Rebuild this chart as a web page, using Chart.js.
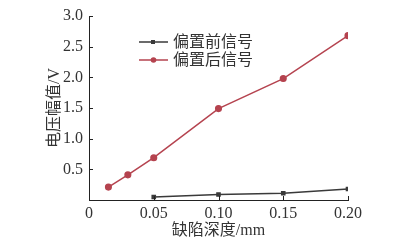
<!DOCTYPE html>
<html>
<head>
<meta charset="utf-8">
<script src="https://cdn.jsdelivr.net/npm/chart.js@4"></script>
<style>
  html, body { margin: 0; padding: 0; background: #fff; }
  #wrap { width: 400px; height: 243px; }
</style>
</head>
<body>
<div id="wrap"><canvas id="chart" width="400" height="243"></canvas></div>
<script>
// 数据
const seriesNames = ['偏置前信号', '偏置后信号'];
const beforeDepth = [0.05, 0.10, 0.15, 0.20];
const beforeAmp = [0.05, 0.09, 0.11, 0.18];
const afterDepth = [0.015, 0.03, 0.05, 0.10, 0.15, 0.20];
const afterAmp = [0.21, 0.41, 0.69, 1.49, 1.98, 2.68];
const xTickLabels = ['0', '0.05', '0.10', '0.15', '0.20'];
const yTickLabels = ['', '0.5', '1.0', '1.5', '2.0', '2.5', '3.0'];

const colors = ['#3a3a3a', '#b5434f'];
const markers = ['rect', 'circle'];
const serif = '"Liberation Serif", "Noto Sans CJK SC", serif';

const toPoints = (xs, ys) => xs.map((x, i) => ({ x: x, y: ys[i] }));

// 刻度朝内
const insideTicks = {
    id: 'insideTicks',
    afterDraw(chart) {
        const { ctx, chartArea, scales } = chart;
        ctx.save();
        ctx.strokeStyle = '#222';
        ctx.lineWidth = 1;
        ctx.beginPath();
        scales.y.ticks.forEach(t => {
            if (t.value === 0) return;
            const y = Math.round(scales.y.getPixelForValue(t.value)) + 0.5;
            ctx.moveTo(chartArea.left, y);
            ctx.lineTo(chartArea.left + 4, y);
        });
        scales.x.ticks.forEach(t => {
            if (t.value === 0) return;
            const x = Math.round(scales.x.getPixelForValue(t.value)) + 0.5;
            ctx.moveTo(x, chartArea.bottom);
            ctx.lineTo(x, chartArea.bottom - 4);
        });
        ctx.stroke();
        ctx.restore();
    }
};

// 图例
const innerLegend = {
    id: 'innerLegend',
    afterDraw(chart) {
        const ctx = chart.ctx;
        ctx.save();
        ctx.font = '16px ' + serif;
        ctx.textBaseline = 'middle';
        chart.data.datasets.forEach((ds, i) => {
            const y = 42 + i * 18;
            ctx.strokeStyle = ds.borderColor;
            ctx.lineWidth = 1.5;
            ctx.beginPath();
            ctx.moveTo(139, y);
            ctx.lineTo(168, y);
            ctx.stroke();
            ctx.fillStyle = ds.borderColor;
            if (ds.pointStyle === 'rect') {
                ctx.fillRect(151, y - 2, 4, 4);
            } else {
                ctx.beginPath();
                ctx.arc(153.5, y, 2.8, 0, Math.PI * 2);
                ctx.fill();
            }
            ctx.fillStyle = '#333';
            ctx.fillText(ds.label, 173, y + 1);
        });
        ctx.restore();
    }
};

new Chart(document.getElementById('chart'), {
    type: 'line',
    data: {
        datasets: [
            {
                label: seriesNames[0],
                data: toPoints(beforeDepth, beforeAmp),
                borderColor: colors[0],
                backgroundColor: colors[0],
                borderWidth: 1.5,
                pointStyle: markers[0],
                pointRadius: 2.2,
                tension: 0
            },
            {
                label: seriesNames[1],
                data: toPoints(afterDepth, afterAmp),
                borderColor: colors[1],
                backgroundColor: colors[1],
                borderWidth: 1.5,
                pointStyle: markers[1],
                pointRadius: 2.8,
                tension: 0
            }
        ]
    },
    options: {
        responsive: false,
        animation: false,
        layout: { padding: { top: 16, right: 52, left: 0, bottom: 0 } },
        plugins: {
            legend: { display: false },
            tooltip: { enabled: false }
        },
        scales: {
            x: {
                type: 'linear',
                min: 0,
                max: 0.2,
                afterFit(scale) { scale.height = 43; },
                grid: { display: false, drawTicks: false },
                border: { color: '#222', width: 1 },
                ticks: {
                    stepSize: 0.05,
                    padding: 4,
                    color: '#333',
                    font: { family: serif, size: 16 },
                    maxRotation: 0,
                    callback: (v, i) => xTickLabels[i]
                },
                title: {
                    display: true,
                    text: '缺陷深度/mm',
                    color: '#333',
                    font: { family: serif, size: 16 },
                    padding: { top: 0, bottom: 3 }
                }
            },
            y: {
                min: 0,
                max: 3,
                afterFit(scale) { scale.width = 89; },
                grid: { display: false, drawTicks: false },
                border: { color: '#222', width: 1 },
                ticks: {
                    stepSize: 0.5,
                    padding: 6,
                    color: '#333',
                    font: { family: serif, size: 16 },
                    callback: (v, i) => yTickLabels[i]
                },
                title: {
                    display: true,
                    text: '电压幅值/V',
                    color: '#333',
                    font: { family: serif, size: 16 },
                    padding: { top: 45, bottom: 0 }
                }
            }
        }
    },
    plugins: [insideTicks, innerLegend]
});
</script>
</body>
</html>
